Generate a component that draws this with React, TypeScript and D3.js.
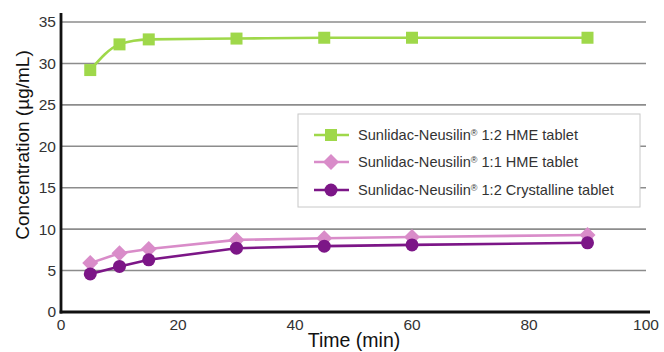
import React from "react";
import * as d3 from "d3";

const times = [5, 10, 15, 30, 45, 60, 90];
const hme12 = [29.2, 32.3, 32.9, 33.0, 33.1, 33.1, 33.1];
const hme11 = [5.9, 7.1, 7.6, 8.7, 8.9, 9.05, 9.3];
const cryst12 = [4.6, 5.5, 6.3, 7.7, 7.95, 8.1, 8.35];
const seriesPrefix = "Sunlidac-Neusilin";
const seriesSuffixes = [" 1:2 HME tablet", " 1:1 HME tablet", " 1:2 Crystalline tablet"];
const xTicks = [0, 20, 40, 60, 80, 100];
const yTicks = [0, 5, 10, 15, 20, 25, 30, 35];

const colors = ["#9fd84a", "#d98cc9", "#7c1687"];
const shapes = ["square", "diamond", "circle"];

function Marker({ shape, x, y, color }: { shape: string; x: number; y: number; color: string }) {
  if (shape === "square") return <rect x={x - 6} y={y - 6} width={12} height={12} fill={color} />;
  if (shape === "diamond")
    return <path d={`M${x},${y - 8}L${x + 8},${y}L${x},${y + 8}L${x - 8},${y}Z`} fill={color} />;
  return <circle cx={x} cy={y} r={6.5} fill={color} />;
}

export default function App() {
  const W = 664, H = 352;
  const x = d3.scaleLinear().domain([0, 100]).range([61, 646]);
  const y = d3.scaleLinear().domain([0, 35]).range([312, 22]);
  const data = [hme12, hme11, cryst12];
  const line = d3
    .line<[number, number]>()
    .x((d) => x(d[0]))
    .y((d) => y(d[1]))
    .curve(d3.curveMonotoneX);
  const lineStraight = d3
    .line<[number, number]>()
    .x((d) => x(d[0]))
    .y((d) => y(d[1]));
  const font = "'Liberation Sans', Arial, Helvetica, sans-serif";
  const legendRows = [135, 162, 190];
  return (
    <svg width={W} height={H} style={{ position: "absolute", left: 0, top: 0 }} fontFamily={font}>
      <rect width={W} height={H} fill="#fff" />
      {yTicks.filter((t) => t > 0).map((t) => (
        <line key={t} x1={x(0)} x2={x(100)} y1={y(t)} y2={y(t)} stroke="#8c8c8c" strokeWidth={1.6} />
      ))}
      {data.map((vals, i) => (
        <g key={i}>
          <path
            d={(i === 0 ? line : lineStraight)(times.map((t, j) => [t, vals[j]] as [number, number])) || ""}
            fill="none"
            stroke={colors[i]}
            strokeWidth={2.6}
          />
          {times.map((t, j) => (
            <Marker key={j} shape={shapes[i]} x={x(t)} y={y(vals[j])} color={colors[i]} />
          ))}
        </g>
      ))}
      <line x1={x(0)} x2={x(0)} y1={13} y2={y(0) + 1.5} stroke="#111" strokeWidth={2.8} />
      <line x1={x(0) - 1.4} x2={650} y1={y(0)} y2={y(0)} stroke="#111" strokeWidth={2.8} />
      {yTicks.map((t) => (
        <text key={t} x={x(0) - 5} y={y(t)} dy="0.35em" textAnchor="end" fontSize={15.5} fill="#333">
          {t}
        </text>
      ))}
      {xTicks.map((t) => (
        <text key={t} x={x(t)} y={y(0) + 18} textAnchor="middle" fontSize={15.5} fill="#333">
          {t}
        </text>
      ))}
      <text x={354} y={347} textAnchor="middle" fontSize={19.5} fill="#111">
        Time (min)
      </text>
      <text
        transform={`translate(29,145) rotate(-90)`}
        textAnchor="middle"
        fontSize={19}
        fill="#111"
      >
        Concentration (µg/mL)
      </text>
      <rect x={298} y={114} width={342} height={93} fill="#fff" stroke="#c8c8c8" strokeWidth={1} />
      {seriesSuffixes.map((suf, i) => (
        <g key={i}>
          <line x1={314} x2={349} y1={legendRows[i]} y2={legendRows[i]} stroke={colors[i]} strokeWidth={2.6} />
          <Marker shape={shapes[i]} x={331} y={legendRows[i]} color={colors[i]} />
          <text x={358} y={legendRows[i]} dy="0.35em" fontSize={14.6} fill="#333">
            {seriesPrefix}
            <tspan fontSize={9} dy="-0.45em">{"\u00AE"}</tspan>
            <tspan dy="0.3em">{suf}</tspan>
          </text>
        </g>
      ))}
    </svg>
  );
}
